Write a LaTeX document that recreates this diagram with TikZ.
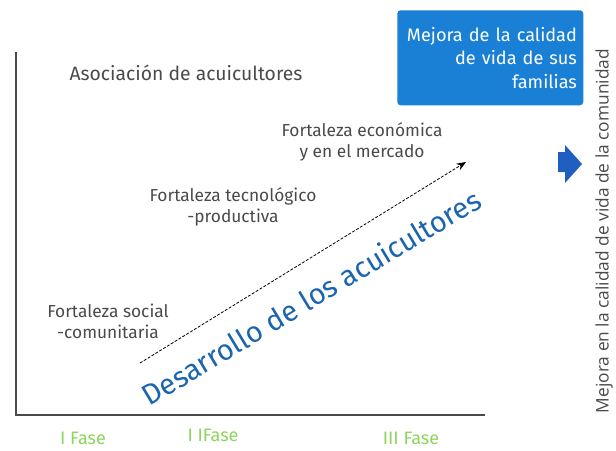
\documentclass[tikz,border=0pt]{standalone}
\usepackage{fontspec}
\setmainfont{Fira Sans}
\newfontfamily\sidefont{Open Sans}
\usetikzlibrary{arrows.meta}
\definecolor{textgray}{HTML}{4A4A4A}
\definecolor{boxblue}{HTML}{1A80D6}
\definecolor{devblue}{HTML}{1A64B0}
\definecolor{arrowblue}{HTML}{1F5FBF}
\definecolor{phasegreen}{HTML}{8CD45C}

\begin{document}
\begin{tikzpicture}[x=0.75pt,y=0.75pt,yscale=-1,xscale=1,
    label/.style={text=textgray, font=\fontsize{13}{15.8}\selectfont, inner sep=0.75pt, align=center},
    phase/.style={text=phasegreen, font=\fontsize{13.5}{15}\selectfont, inner sep=0.75pt},
    axis/.style={draw=textgray, line width=1.2pt},
    devarrow/.style={draw=black, line width=0.6pt, dash pattern=on 2.2pt off 1.2pt, -{Stealth[length=7pt,width=5.5pt]}}]
    \useasboundingbox (0,0) rectangle (616,450);

    % Axes
    \coordinate (ytop) at (16,52);
    \coordinate (origin) at (16,415);
    \coordinate (xend) at (485,415);
    \draw [axis] (ytop) -- (origin) -- (xend);

    % Text Node
    \node (assoc) at (186,73) [label, font=\fontsize{14.5}{17}\selectfont] {Asociación de acuicultores};
    % Text Node
    \node (social) at (46,321) [label, anchor=west] {Fortaleza social\\-comunitaria};
    % Text Node
    \node (techno) at (233,207) [label] {Fortaleza tecnológico\\-productiva};
    % Text Node
    \node (econ) at (362,142) [label] {Fortaleza económica\\y en el mercado};

    % Dashed development arrow
    \coordinate (devstart) at (140,363);
    \coordinate (devend) at (466,162);
    \draw [devarrow] (devstart) -- (devend);
    % Text Node
    \node (develop) at (311,297) [text=devblue, rotate=31, inner sep=0pt, font=\fontsize{21.7}{24}\selectfont] {Desarrollo de los acuicultores};

    % Blue box
    \node (family) at (397,10) [anchor=north west, fill=boxblue, rounded corners=2.5pt, minimum width=139.5pt, minimum height=71.25pt, inner xsep=4.75pt, inner ysep=6pt, text width=130pt, align=right, text=white, font=\fontsize{13.6}{17.6}\selectfont] {Mejora de la calidad\\de vida de sus\\familias};

    % Block arrow
    \fill [arrowblue] (558,152) -- (565,152) -- (565,145) -- (582,164) -- (565,183) -- (565,172) -- (558,172) -- cycle;

    % Text Node
    \node (community) at (604,231) [rotate=90, text=textgray, inner sep=0pt, font=\sidefont\fontsize{13}{15}\selectfont] {Mejora en la calidad de vida de la comunidad};

    % Phases
    \node (phase1) at (83,438) [phase] {I Fase};
    \node (phase2) at (213,435) [phase] {I IFase};
    \node (phase3) at (411,438) [phase] {III Fase};
\end{tikzpicture}
\end{document}
